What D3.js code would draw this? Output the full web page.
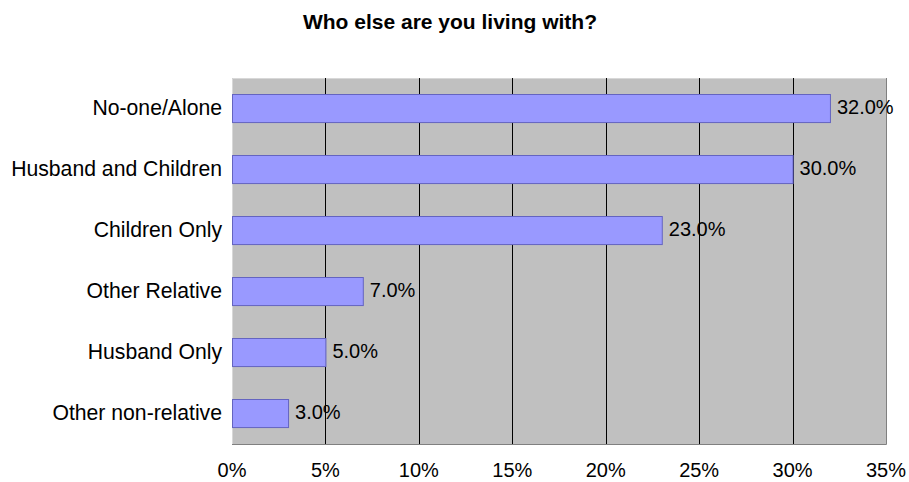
<!DOCTYPE html>
<html>
<head>
<meta charset="utf-8">
<script src="https://cdn.jsdelivr.net/npm/d3@7"></script>
<style>
  body { margin: 0; background: #fff; }
  text { font-family: "Liberation Sans", Arial, sans-serif; }
</style>
</head>
<body>
<div id="chart"></div>
<script>
// data
var categories = ["No-one/Alone", "Husband and Children", "Children Only", "Other Relative", "Husband Only", "Other non-relative"];
var values = [0.32, 0.30, 0.23, 0.07, 0.05, 0.03];
var ticks = [0, 0.05, 0.10, 0.15, 0.20, 0.25, 0.30, 0.35];

var w = 909, h = 482;
var margin = {top: 78, right: 23, bottom: 38, left: 232};

var svg = d3.select("#chart").append("svg")
    .attr("width", w)
    .attr("height", h);

var xScale = d3.scaleLinear()
    .domain([0, 0.35])
    .range([margin.left, w - margin.right]);

var yScale = d3.scaleBand()
    .domain(categories)
    .range([margin.top, h - margin.bottom])
    .paddingInner(0.54)
    .paddingOuter(0.27);

// plot background
svg.append("rect")
    .attr("x", xScale(0))
    .attr("y", margin.top)
    .attr("width", xScale(0.35) - xScale(0))
    .attr("height", h - margin.bottom - margin.top)
    .attr("fill", "#c0c0c0");

// light top/left edge
svg.append("path")
    .attr("d", "M" + (xScale(0) + 0.5) + "," + (h - margin.bottom) +
               "V" + (margin.top + 0.5) + "H" + xScale(0.35))
    .attr("fill", "none")
    .attr("stroke", "#d8d8d8");

// gridlines
svg.append("g")
    .selectAll("line")
    .data(ticks.slice(1, -1))
    .enter()
    .append("line")
    .attr("x1", function(d) { return Math.round(xScale(d)) + 0.5; })
    .attr("x2", function(d) { return Math.round(xScale(d)) + 0.5; })
    .attr("y1", margin.top)
    .attr("y2", h - margin.bottom)
    .attr("stroke", "#000")
    .attr("stroke-width", 1);

// right + bottom border of the plot
svg.append("path")
    .attr("d", "M" + (Math.round(xScale(0.35)) + 0.5) + "," + margin.top +
               "V" + (h - margin.bottom + 0.5) + "H" + xScale(0))
    .attr("fill", "none")
    .attr("stroke", "#808080");

// bars
svg.append("g")
    .selectAll("rect")
    .data(values)
    .enter()
    .append("rect")
    .attr("x", xScale(0) + 0.5)
    .attr("y", function(d, i) { return Math.round(yScale(categories[i])) + 0.5; })
    .attr("width", function(d) { return xScale(d) - xScale(0); })
    .attr("height", yScale.bandwidth())
    .attr("fill", "#9999ff")
    .attr("stroke", "#6464c0")
    .attr("stroke-width", 1);

// value labels
svg.append("g")
    .selectAll("text")
    .data(values)
    .enter()
    .append("text")
    .attr("x", function(d) { return xScale(d) + 7; })
    .attr("y", function(d, i) { return yScale(categories[i]) + yScale.bandwidth() / 2; })
    .attr("dy", "0.28em")
    .attr("font-size", "20px")
    .attr("fill", "#000")
    .text(function(d) { return d3.format(".1%")(d); });

// category labels
svg.append("g")
    .selectAll("text")
    .data(categories)
    .enter()
    .append("text")
    .attr("x", margin.left - 10)
    .attr("y", function(d) { return yScale(d) + yScale.bandwidth() / 2; })
    .attr("dy", "0.3em")
    .attr("text-anchor", "end")
    .attr("font-size", "21.2px")
    .text(function(d) { return d; });

// x tick labels
svg.append("g")
    .selectAll("text")
    .data(ticks)
    .enter()
    .append("text")
    .attr("x", function(d) { return xScale(d); })
    .attr("y", 477)
    .attr("text-anchor", "middle")
    .attr("font-size", "20px")
    .text(function(d) { return d3.format(".0%")(d); });

// title
svg.append("text")
    .attr("x", 450)
    .attr("y", 29)
    .attr("text-anchor", "middle")
    .attr("font-size", "21px")
    .attr("font-weight", "bold")
    .text("Who else are you living with?");
</script>
</body>
</html>
